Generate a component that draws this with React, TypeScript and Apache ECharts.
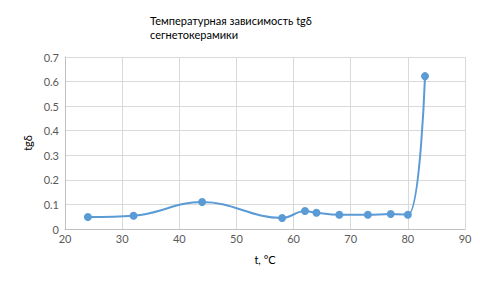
import React, { useEffect, useRef } from "react";
import * as echarts from "echarts";

const temperatures = [24, 32, 44, 58, 62, 64, 68, 73, 77, 80, 83];
const tgDelta = [0.049, 0.054, 0.11, 0.045, 0.073, 0.066, 0.058, 0.058, 0.061, 0.058, 0.622];
const titleLines = ["Температурная зависимость tgδ", "сегнетокерамики"];
const xAxisName = "t, °C";
const yAxisName = "tgδ";

export default function App() {
  const ref = useRef<HTMLDivElement>(null);
  useEffect(() => {
    if (!ref.current) return;
    const chart = echarts.init(ref.current, undefined, { renderer: "svg" });
    const font = "Lato, 'Open Sans', sans-serif";
    chart.setOption({
      animation: false,
      backgroundColor: "#ffffff",
      title: {
        text: titleLines.join("\n"),
        left: 150,
        top: 13,
        padding: 0,
        textStyle: { fontFamily: font, fontSize: 11, fontWeight: "normal", color: "#000", lineHeight: 14 },
      },
      grid: { left: 65, right: 15, top: 57, bottom: 59 },
      xAxis: {
        type: "value",
        min: 20,
        max: 90,
        interval: 10,
        name: xAxisName,
        nameLocation: "middle",
        nameGap: 25,
        nameTextStyle: { fontFamily: font, fontSize: 11, color: "#000" },
        axisLine: { lineStyle: { color: "#bfbfbf" } },
        axisTick: { show: false },
        axisLabel: { fontFamily: font, fontSize: 11, color: "#595959", margin: 4 },
        splitLine: { lineStyle: { color: "#d9d9d9" } },
      },
      yAxis: {
        type: "value",
        min: 0,
        max: 0.7,
        interval: 0.1,
        name: yAxisName,
        nameLocation: "middle",
        nameGap: 31,
        nameRotate: 90,
        nameTextStyle: { fontFamily: font, fontSize: 11, color: "#000" },
        axisLine: { show: true, lineStyle: { color: "#bfbfbf" } },
        axisTick: { show: false },
        axisLabel: { fontFamily: font, fontSize: 11, color: "#595959", margin: 6 },
        splitLine: { lineStyle: { color: "#d9d9d9" } },
      },
      series: [
        {
          type: "line",
          data: temperatures.map((t, i) => [t, tgDelta[i]]),
          smooth: 0.4,
          symbol: "circle",
          symbolSize: 8,
          lineStyle: { color: "#5b9bd5", width: 2 },
          itemStyle: { color: "#5b9bd5" },
        },
      ],
    });
    return () => chart.dispose();
  }, []);
  return <div ref={ref} style={{ width: 480, height: 288, position: "absolute", left: 0, top: 0 }} />;
}
